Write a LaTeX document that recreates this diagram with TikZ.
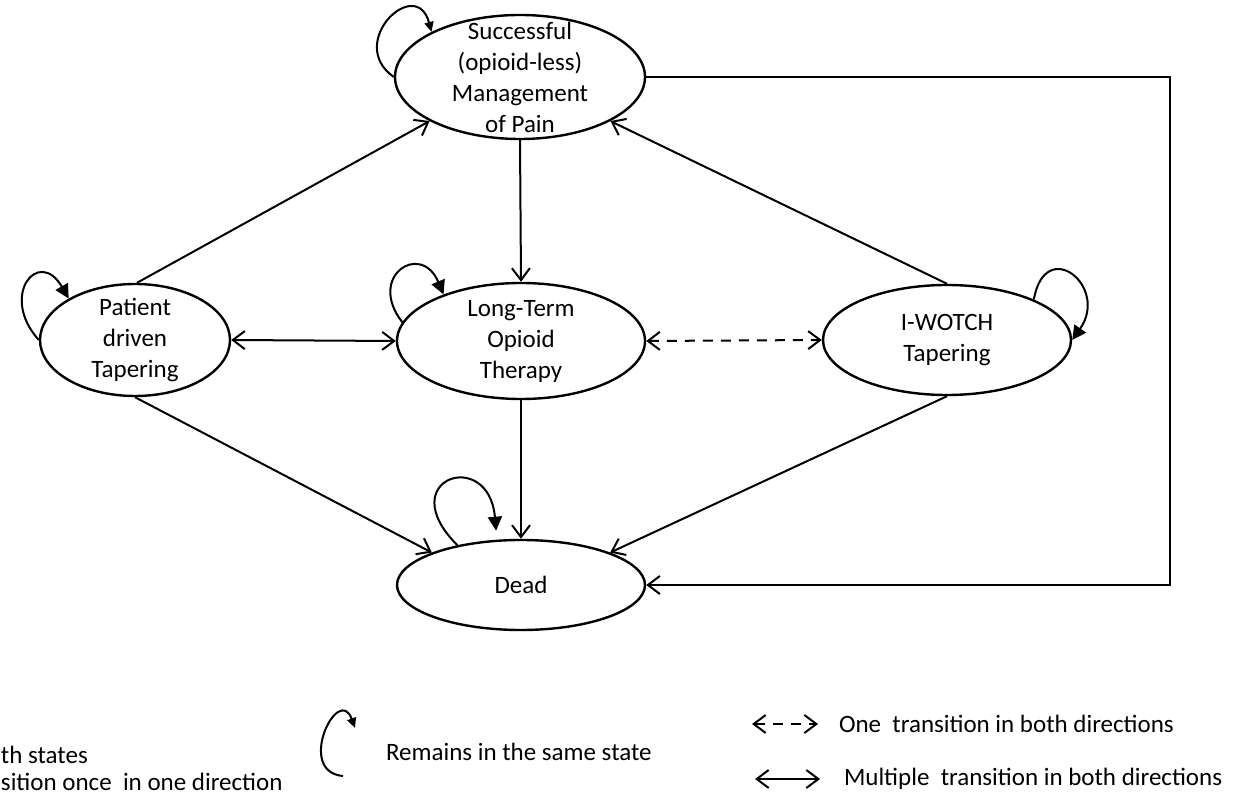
\documentclass[tikz,border=0pt]{standalone}
\usepackage{fontspec}
\setmainfont{Carlito}
\usetikzlibrary{arrows.meta,shapes.geometric}

\begin{document}
\begin{tikzpicture}[x=0.5pt, y=-0.5pt, line width=1pt,
        font=\fontsize{12.5}{15.5}\selectfont,
        >={Straight Barb[length=6pt,width=9pt]},
        state/.style={ellipse, draw, line width=1.2pt, inner sep=0pt},
        every label/.style={align=center},
        stay/.style={-{Triangle[length=7pt,width=7pt]}},
        staysmall/.style={-{Triangle[length=5pt,width=4.5pt]}},
        legtext/.style={anchor=west, inner sep=0pt}
    ]
    \useasboundingbox (0,0) rectangle (1235,795);

    \node[state, minimum width=125pt, minimum height=62pt,
        label=center:{Successful\\(opioid-less)\\Management\\of Pain}] (s) at (520,77) {};
    \node[state, minimum width=95pt, minimum height=56pt,
        label=center:{Patient\\driven\\Tapering}] (p) at (135,340) {};
    \node[state, minimum width=124pt, minimum height=58pt,
        label=center:{Long-Term\\Opioid\\Therapy}] (lt) at (521,341) {};
    \node[state, minimum width=124pt, minimum height=55pt,
        label=center:{I-WOTCH\\Tapering}] (iw) at (947,340) {};
    \node[state, minimum width=124pt, minimum height=45pt] (d) at (521,585) {Dead};

    \coordinate (rc) at (1170,585);

    \draw (p.88) edge[->] (s.206);
    \draw (s.south) edge[->] (lt.north);
    \draw (iw.90) edge[->] (s.334);
    \draw (p.east) edge[<->] (lt.west);
    \draw (lt.east) edge[<->, dash pattern=on 5pt off 4pt] (iw.west);
    \draw (p.270) edge[->] (d.160);
    \draw (lt.south) edge[->] (d.north);
    \draw (iw.270) edge[->] (d.20);
    \draw[->] (s.east) -| (rc) -- (d.east);

    % staying in the same state
    \draw (s.180) edge[staysmall, out=145, in=105, looseness=2.6] (s.153);
    \draw (p.180) edge[stay, out=132, in=120, looseness=3] (p.148);
    \draw (lt.171) edge[stay, out=128, in=113, looseness=3] (lt.149);
    \draw (iw.25) edge[stay, out=80, in=55, looseness=3] (iw.east);
    \draw (d.148) edge[stay, shorten >=4.5pt, out=135, in=95, looseness=6] (d.118);

    % legend
    \node[legtext] (l1) at (0,755) {th states};
    \node[legtext] (l2) at (0,782) {sition once\ \ in one direction};

    \coordinate (la) at (343,776);
    \coordinate (lb) at (355,728);
    \draw[staysmall] (la) to[out=175, in=110, looseness=2.5] (lb);
    \node[legtext] (l3) at (385,752) {Remains in the same state};

    \coordinate (lc) at (752,724);
    \coordinate (ld) at (818,724);
    \draw[<->, dash pattern=on 5pt off 4pt] (lc) -- (ld);
    \node[legtext] (l4) at (838,724) {One\ \ transition in both directions};

    \coordinate (le) at (755,779);
    \coordinate (lf) at (820,779);
    \draw[<->] (le) -- (lf);
    \node[legtext] (l5) at (843,779) {Multiple\ \ transition in both directions};
\end{tikzpicture}
\end{document}
